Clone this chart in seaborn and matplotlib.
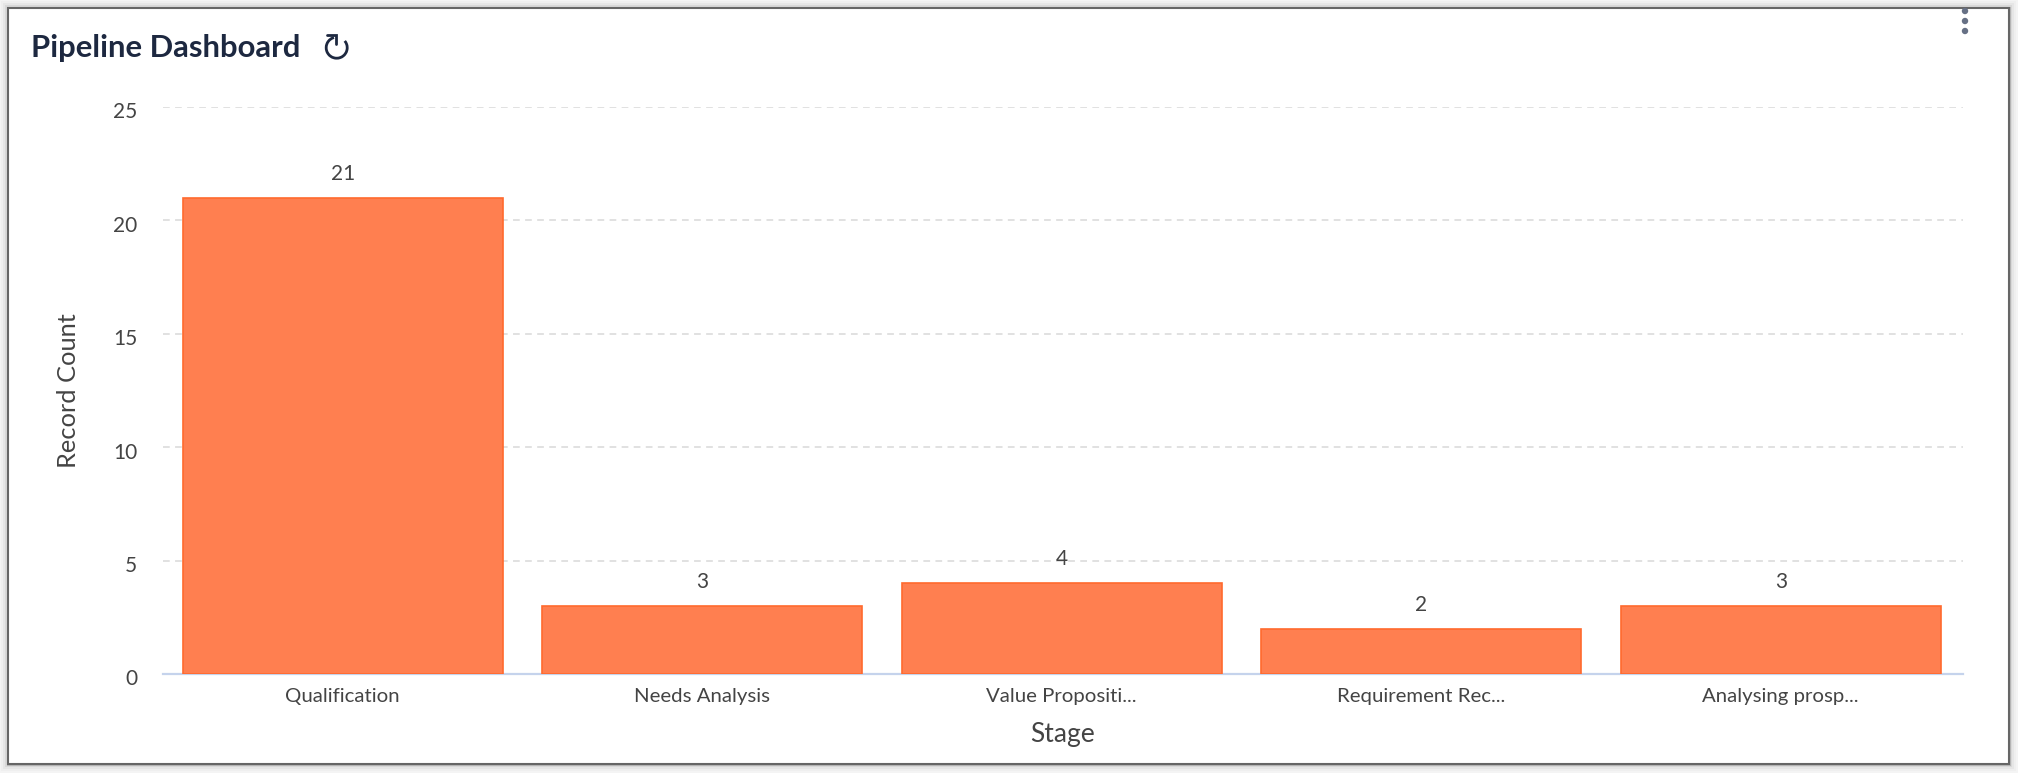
# Pipeline dashboard bar chart
import matplotlib
matplotlib.use('Agg')
import matplotlib.pyplot as plt
from matplotlib.patches import Rectangle, Circle, Arc
from matplotlib.transforms import ScaledTranslation
import pandas as pd
import seaborn as sns

stages = ['Qualification', 'Needs Analysis', 'Value Propositi...', 'Requirement Rec...', 'Analysing prosp...']
record_counts = [21, 3, 4, 2, 3]
y_ticks = [0, 5, 10, 15, 20, 25]

W, H = 2018, 773
INK = '#1D2840'

sns.set_theme(style='white')
plt.rcParams['font.family'] = ['Lato', 'Open Sans', 'DejaVu Sans']

df = pd.DataFrame({'Stage': stages, 'Record Count': record_counts})

fig = plt.figure(figsize=(W / 100, H / 100), dpi=100, facecolor='#F4F4F4')

# card with soft shadow, in pixels
bg = fig.add_axes([0, 0, 1, 1], zorder=0)
bg.set_xlim(0, W)
bg.set_ylim(H, 0)
bg.axis('off')
for grow, col in [(7, '#EFEFEF'), (5, '#E6E6E6'), (3, '#D8D8D8'), (1.5, '#B8B8B8')]:
    bg.add_patch(Rectangle((8 - grow, 8 - grow), 2001 + 2 * grow, 756 + 2 * grow, fc=col, ec='none'))
bg.add_patch(Rectangle((8, 8), 2001, 756, fc='white', ec='#666666', lw=1.5))

# menu dots
for cy in [11, 21, 31]:
    bg.add_patch(Circle((1965, cy), 3.2, fc='#667085', ec='none'))

# refresh icon
bg.add_patch(Arc((336.7, 47.7), 21, 21, theta1=-40, theta2=255, ec=INK, lw=2))
bg.plot([327, 336, 336], [35, 35, 43.5], color=INK, lw=2, solid_joinstyle='miter')

ax = fig.add_axes([163 / W, (H - 674) / H, 1800 / W, 567 / H], zorder=1)
ax.patch.set_alpha(0)
sns.barplot(data=df, x='Stage', y='Record Count', ax=ax, color='#FF7F50', saturation=1,
            width=0.89, edgecolor='#FF6A2E', linewidth=1.2, zorder=3)

ax.set_xlim(-0.5, 4.507)
ax.set_ylim(0, 25)
ax.set_yticks(y_ticks)
ax.grid(axis='y', color='#D9D9D9', linestyle=(0, (4.4, 3.5)), linewidth=1.1, zorder=0)
ax.grid(axis='x', visible=False)
ax.set_axisbelow(True)
sns.despine(ax=ax, left=True)
ax.spines['bottom'].set_color('#C5D3EC')
ax.spines['bottom'].set_linewidth(1.6)

ax.tick_params(axis='both', length=0, labelcolor='#444444')
ax.tick_params(axis='x', labelsize=14.7, pad=10)
ax.tick_params(axis='y', labelsize=15, pad=18.5)

# y tick labels sit a little below their gridlines
for lab in ax.get_yticklabels():
    lab.set_transform(lab.get_transform() + ScaledTranslation(0, -2.5 / 72, fig.dpi_scale_trans))

ax.set_xlabel('Stage', fontsize=19, color='#444444', labelpad=12.5)
ax.set_ylabel('Record Count', fontsize=18.3, color='#444444', labelpad=24)

ax.bar_label(ax.containers[0], padding=10, fontsize=15, color='#444444')

fig.text(31 / W, 1 - 48.5 / H, 'Pipeline Dashboard', fontsize=22.3, fontweight='bold',
         color=INK, va='center', ha='left')

plt.savefig('out.png', dpi=100, facecolor=fig.get_facecolor())
